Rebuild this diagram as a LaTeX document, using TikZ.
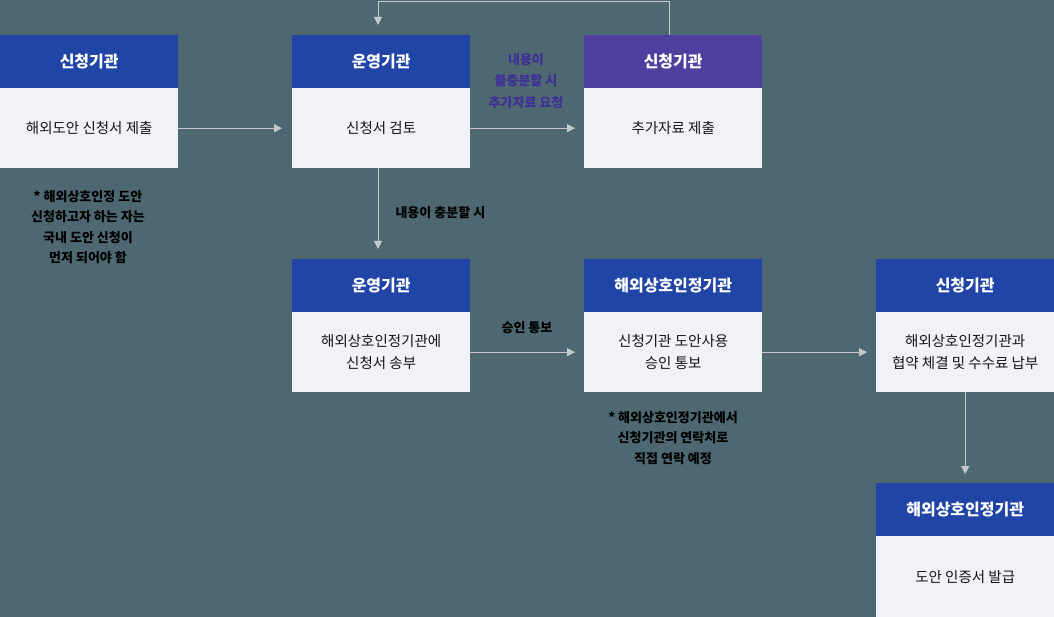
\documentclass[tikz,border=0pt]{standalone}
\usepackage{fontspec}
\setmainfont{Noto Sans CJK KR}
\usetikzlibrary{arrows.meta}
\definecolor{bgc}{HTML}{4D6871}
\definecolor{hblue}{HTML}{2145A6}
\definecolor{hpurp}{HTML}{513F9F}
\definecolor{bodyc}{HTML}{F1F2F7}
\definecolor{arrc}{HTML}{C4C8CB}
\definecolor{lblpurp}{HTML}{3F2F96}
\definecolor{dark}{HTML}{151515}
\tikzset{
  hdr/.style={fill=hblue, minimum width=178pt, minimum height=53pt, inner sep=0pt, anchor=north west, text=white, font=\bfseries\fontsize{16}{18}\selectfont},
  bodybox/.style={fill=bodyc, minimum width=178pt, minimum height=80pt, inner sep=0pt, anchor=north west, text=dark, align=center, font=\fontsize{14.5}{22}\selectfont},
  note/.style={text=black, align=center, font=\bfseries\fontsize{13}{20.3}\selectfont},
  lbl/.style={text=black, align=center, font=\bfseries\fontsize{13}{21.5}\selectfont},
  conn/.style={draw=arrc, line width=0.9pt, -{Triangle[length=8pt,width=8pt]}}
}
\begin{document}
\begin{tikzpicture}[x=1pt,y=-1pt]
\fill[bgc] (0,0) rectangle (1054,617);
\useasboundingbox (0,0) rectangle (1054,617);
% row 1
\node[hdr] (a1h) at (0,35) {신청기관};
\node[bodybox] (a1b) at (0,88) {해외도안 신청서 제출};
\node[hdr] (o1h) at (292,35) {운영기관};
\node[bodybox] (o1b) at (292,88) {신청서 검토};
\node[hdr, fill=hpurp] (p1h) at (584,35) {신청기관};
\node[bodybox] (p1b) at (584,88) {추가자료 제출};
% row 2
\node[hdr] (o2h) at (292,259) {운영기관};
\node[bodybox] (o2b) at (292,312) {해외상호인정기관에\\신청서 송부};
\node[hdr] (f1h) at (584,259) {해외상호인정기관};
\node[bodybox] (f1b) at (584,312) {신청기관 도안사용\\승인 통보};
\node[hdr] (c2h) at (876,259) {신청기관};
\node[bodybox] (c2b) at (876,312) {해외상호인정기관과\\협약 체결 및 수수료 납부};
% row 3
\node[hdr] (f2h) at (876,483) {해외상호인정기관};
\node[bodybox, minimum height=81pt] (f2b) at (876,536) {도안 인증서 발급};
% notes and labels
\node[note] (n1) at (88,227) {* 해외상호인정 도안\\신청하고자 하는 자는\\국내 도안 신청이\\먼저 되어야 함};
\node[note] (n2) at (673,438) {* 해외상호인정기관에서\\신청기관의 연락처로\\직접 연락 예정};
\node[lbl, anchor=west] (l1) at (392,213) {내용이 충분할 시};
\node[lbl, text=lblpurp] (l2) at (526,81) {내용이\\불충분할 시\\추가자료 요청};
\node[lbl] (l3) at (527,328) {승인 통보};
\coordinate (tr) at (669,1);
\coordinate (tl) at (378,1);
% connectors
\draw[conn, shorten >=10pt] (a1b.east) -- (o1b.west);
\draw[conn, shorten >=9pt] (o1b.east) -- (p1b.west);
\draw[conn, shorten >=10pt] (o1b.south -| tl) -- (o2h.north -| tl);
\draw[conn, shorten >=10pt] (p1h.north -| tr) -- (tr) -- (tl) -- (o1h.north -| tl);
\draw[conn, shorten >=9pt] (o2b.east) -- (f1b.west);
\draw[conn, shorten >=9pt] (f1b.east) -- (c2b.west);
\draw[conn, shorten >=9pt] (c2b.south) -- (f2h.north);
\end{tikzpicture}
\end{document}
